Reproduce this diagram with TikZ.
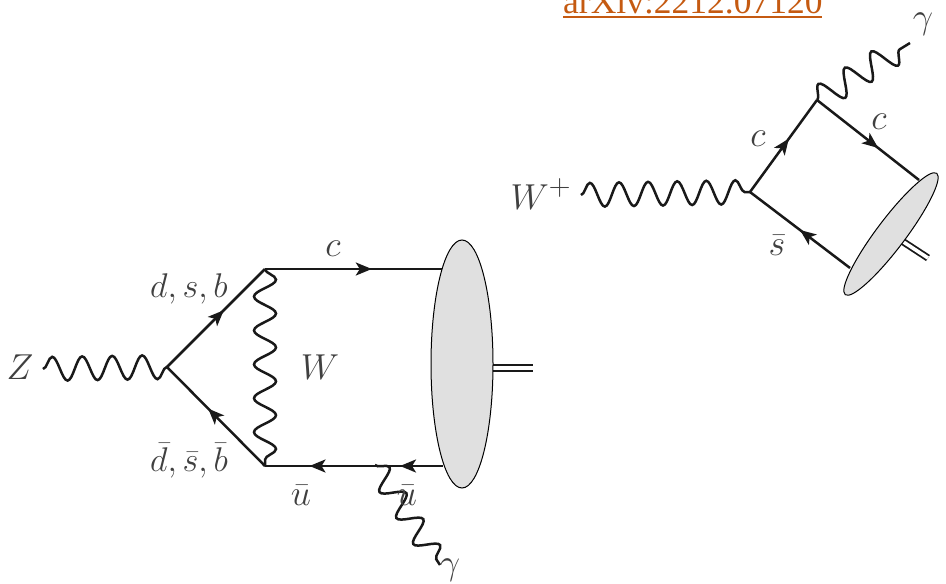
\documentclass[tikz,border=0pt]{standalone}
\usepackage{fontspec}
\usetikzlibrary{decorations.pathmorphing,decorations.markings,shapes.geometric,arrows.meta}
\newfontfamily\linkfont{Liberation Serif}
\definecolor{linkorange}{HTML}{C55A11}
\definecolor{blobgray}{HTML}{E0E0E0}
\tikzset{
  quark/.style={line width=2.5pt,black!90},
  fermion/.style={quark,postaction={decorate},decoration={markings,
    mark=at position #1 with {\arrow{Stealth[length=16pt,width=13pt,inset=4pt]}}}},
  boson/.style 2 args={line width=2.5pt,black!90,decorate,
    decoration={snake,amplitude=#1,segment length=#2,pre length=0pt,post length=0pt}},
  meson/.style={line width=1.8pt,double,double distance=3.6pt,black!90},
  blob/.style={draw,fill=blobgray,ellipse,inner sep=0pt,line width=1pt},
  lbl/.style={inner sep=0pt,scale=1.45,font=\fontsize{24.88}{30}\selectfont,text=black!75},
  smalllbl/.style={lbl,scale=1.2,font=\fontsize{20.74}{25}\selectfont},
  linklbl/.style={inner sep=0pt,anchor=base west,text=linkorange,font=\fontsize{35.5}{35.5}\linkfont},
}
\begin{document}
\begin{tikzpicture}[x=1pt,y=-1pt]
\useasboundingbox (0,0) rectangle (946,584);
\clip (0,0) rectangle (946,584);
% left diagram
\coordinate (zstart) at (43,369);
\coordinate (zv) at (167,367);
\coordinate (qtop) at (265,269);
\coordinate (qbot) at (265,466);
\coordinate (btop) at (443,269);
\coordinate (bbot) at (443,466);
\coordinate (barrow) at (400,466);
\coordinate (gv) at (375,465);
\coordinate (gend) at (440,565);
\coordinate (mesonin) at (490,368);
\coordinate (mesonout) at (533,368);
\draw[boson={12pt}{30pt}] (zstart) -- (zv);
\draw[fermion=0.58] (zv) -- (qtop);
\draw[fermion=0.58] (qbot) -- (zv);
\draw[fermion=0.6] (qtop) -- (btop);
\draw[fermion=0.75] (bbot) -- (qbot);
\draw[quark,{Stealth[length=16pt,width=13pt,inset=4pt]}-] (barrow) -- (bbot);
\draw[boson={11pt}{33.9pt}] (qtop) -- (qbot);
\draw[boson={11pt}{31pt}] (gv) -- (gend);
\draw[meson] (mesonin) -- (mesonout);
\node[blob,minimum width=62pt,minimum height=248pt] (blobleft) at (462,364) {};
\node[lbl] (zlabel) at (20,367) {$Z$};
\node[lbl] (wlabel) at (320,367) {$W$};
\node[smalllbl] (clabel) at (333,249) {$c$};
\node[smalllbl,scale=0.95] (dlabel) at (189,289) {$d,s,b$};
\node[smalllbl,scale=0.95] (dbarlabel) at (189,461) {$\bar d,\bar s,\bar b$};
\node[smalllbl] (ubarone) at (301,495) {$\bar u$};
\node[smalllbl] (ubartwo) at (407,495) {$\bar u$};
\node[smalllbl] (gammaone) at (450,570) {$\gamma$};
% right diagram
\coordinate (wstart) at (581,195);
\coordinate (wv) at (750,192);
\coordinate (ctop) at (817,100);
\coordinate (cend) at (919,180);
\coordinate (send) at (850,268);
\coordinate (gtip) at (910,43);
\coordinate (mesonrin) at (902,241);
\coordinate (mesonrout) at (928,258);
\draw[boson={12pt}{29.1pt}] (wstart) -- (wv);
\draw[fermion=0.58] (wv) -- (ctop);
\draw[fermion=0.6] (ctop) -- (cend);
\draw[fermion=0.5] (send) -- (wv);
\draw[boson={13pt}{31pt}] (ctop) -- (gtip);
\draw[meson] (mesonrin) -- (mesonrout);
\node[blob,rotate=53,minimum width=152pt,minimum height=29pt] (blobright) at (891,234) {};
\node[lbl] (wplabel) at (541,194) {$W^+$};
\node[smalllbl] (cleft) at (758,139) {$c$};
\node[smalllbl] (cright) at (879,122) {$c$};
\node[smalllbl] (sbar) at (777,245) {$\bar s$};
\node[smalllbl] (gammatwo) at (923,24) {$\gamma$};
% links
\node[linklbl] (linktop) at (563,13) {arXiv:2212.07120};
\draw[linkorange,line width=2pt] (linktop.base west) ++(0,3.7) -- ++(259,0);
\node[linklbl] (linkbot) at (655,609) {arXiv:2010.07120};
\end{tikzpicture}
\end{document}
